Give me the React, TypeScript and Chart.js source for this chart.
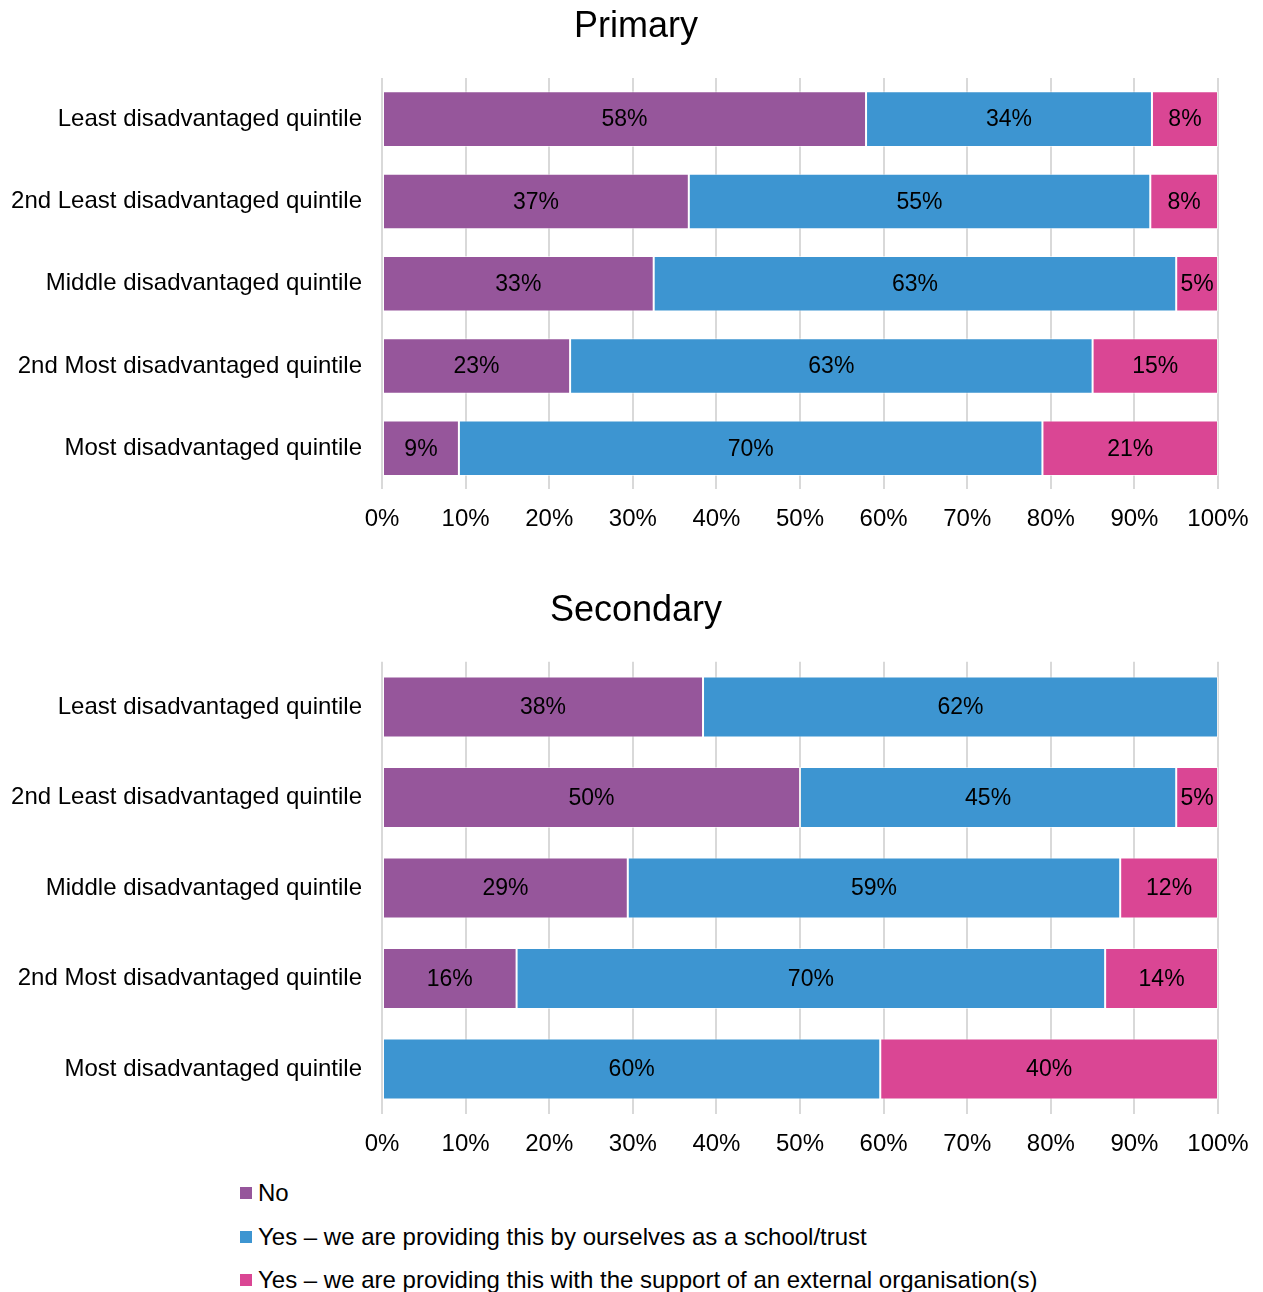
import React, { useEffect, useRef } from "react";
import { Chart, registerables } from "chart.js";

Chart.register(...registerables);

const FONT = "'Liberation Sans', Arial, Helvetica, sans-serif";

const categories = [
  "Least disadvantaged quintile",
  "2nd Least disadvantaged quintile",
  "Middle disadvantaged quintile",
  "2nd Most disadvantaged quintile",
  "Most disadvantaged quintile",
];

const seriesNames = [
  "No",
  "Yes – we are providing this by ourselves as a school/trust",
  "Yes – we are providing this with the support of an external organisation(s)",
];
const seriesColors = ["#96569B", "#3D95D1", "#DA4694"];

// Primary
const primaryNo = [57.9, 36.7, 32.5, 22.5, 9.2];
const primaryYesSchool = [34.2, 55.2, 62.5, 62.5, 69.8];
const primaryYesExternal = [7.9, 8.1, 5.0, 15.0, 21.0];

// Secondary
const secondaryNo = [38.4, 50.0, 29.4, 16.1, 0];
const secondaryYesSchool = [61.6, 45.0, 58.9, 70.4, 59.6];
const secondaryYesExternal = [0, 5.0, 11.7, 13.5, 40.4];

const xTickStep = 10;

const valueLabels = {
  id: "valueLabels",
  afterDatasetsDraw(chart: any) {
    const ctx = chart.ctx;
    ctx.save();
    ctx.font = `23px ${FONT}`;
    ctx.fillStyle = "#000000";
    ctx.textAlign = "center";
    ctx.textBaseline = "middle";
    chart.data.datasets.forEach((ds: any, di: number) => {
      const meta = chart.getDatasetMeta(di);
      meta.data.forEach((el: any, i: number) => {
        const v = ds.data[i];
        if (!v) return;
        const p = el.getProps(["x", "y", "base"], true);
        ctx.fillText(Math.round(v) + "%", (p.x + p.base) / 2, p.y + 1);
      });
    });
    ctx.restore();
  },
};

// Title drawn centred on the page (the layout reserves its space via padding)
const pageTitle = {
  id: "pageTitle",
  afterDraw(chart: any, _args: any, opts: any) {
    const ctx = chart.ctx;
    ctx.save();
    ctx.font = `36px ${FONT}`;
    ctx.fillStyle = "#000000";
    ctx.textAlign = "center";
    ctx.textBaseline = "middle";
    ctx.fillText(opts.text, opts.x, opts.y);
    ctx.restore();
  },
};

type Props = {
  title: string;
  no: number[];
  yesSchool: number[];
  yesExternal: number[];
  height: number;
  topPad: number;
  bottomPad: number;
  top: number;
};

function StackedChart({ title, no, yesSchool, yesExternal, height, topPad, bottomPad, top }: Props) {
  const ref = useRef<HTMLCanvasElement | null>(null);
  useEffect(() => {
    if (!ref.current) return;
    const values = [no, yesSchool, yesExternal];
    const chart = new Chart(ref.current, {
      type: "bar",
      data: {
        labels: categories,
        datasets: values.map((d, i) => ({
          label: seriesNames[i],
          data: d,
          backgroundColor: seriesColors[i],
          borderColor: "rgba(255,255,255,0.55)",
          borderWidth: 1,
          borderSkipped: false,
          barPercentage: 0.675,
          categoryPercentage: 1,
        })),
      },
      options: {
        indexAxis: "y",
        responsive: false,
        animation: false,
        layout: { padding: { left: 0, right: 37, top: topPad, bottom: bottomPad } },
        plugins: {
          legend: { display: false },
          tooltip: { enabled: false },
          title: { display: false },
          pageTitle: { text: title, x: 628, y: 21.6 },
        },
        scales: {
          x: {
            stacked: true,
            min: 0,
            max: 100,
            ticks: {
              stepSize: xTickStep,
              callback: (v: any) => v + "%",
              color: "#000000",
              font: { family: FONT, size: 24 },
              padding: 16,
            },
            grid: { color: "#D9D9D9", lineWidth: 2, drawTicks: false, tickLength: 0 },
            border: { display: false },
            afterFit: (s: any) => {
              s.height = 44;
              s.paddingLeft = 0;
              s.paddingRight = 0;
            },
          },
          y: {
            stacked: true,
            grid: { display: false, drawTicks: false, tickLength: 0 },
            border: { display: false },
            ticks: {
              color: "#000000",
              font: { family: FONT, size: 24 },
              padding: 20,
            },
            afterFit: (s: any) => {
              s.width = 374;
              s.paddingTop = 0;
              s.paddingBottom = 0;
            },
          },
        },
      },
      plugins: [valueLabels, pageTitle],
    } as any);
    return () => chart.destroy();
  }, []);
  return (
    <canvas
      ref={ref}
      width={1247}
      height={height}
      style={{ position: "absolute", left: 0, top, width: 1247, height }}
    />
  );
}

const legendCenters = [1193, 1237, 1280];

export default function App() {
  useEffect(() => {
    document.documentElement.style.overflow = "hidden";
    document.body.style.overflow = "hidden";
  }, []);
  return (
    <div
      style={{
        position: "relative",
        width: 1247,
        height: 1284,
        overflow: "hidden",
        fontFamily: FONT,
        background: "#ffffff",
      }}
    >
      <StackedChart
        title="Primary"
        no={primaryNo}
        yesSchool={primaryYesSchool}
        yesExternal={primaryYesExternal}
        height={540}
        topPad={73}
        bottomPad={11.6}
        top={-3}
      />
      <StackedChart
        title="Secondary"
        no={secondaryNo}
        yesSchool={secondaryYesSchool}
        yesExternal={secondaryYesExternal}
        height={575}
        topPad={72.75}
        bottomPad={5.75}
        top={581}
      />
      {seriesNames.map((name, i) => (
        <div
          key={name}
          style={{
            position: "absolute",
            left: 232,
            top: legendCenters[i] - 8 - 15,
            height: 30,
            display: "flex",
            alignItems: "center",
            whiteSpace: "nowrap",
            fontSize: 24,
            color: "#000000",
          }}
        >
          <span
            style={{
              display: "inline-block",
              width: 12,
              height: 12,
              background: seriesColors[i],
              marginRight: 6,
            }}
          />
          <span>{name}</span>
        </div>
      ))}
    </div>
  );
}
